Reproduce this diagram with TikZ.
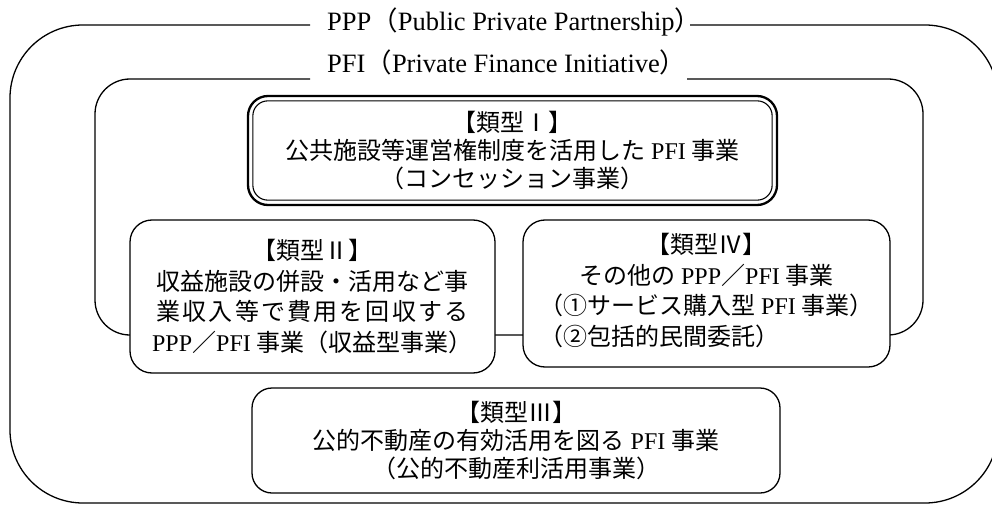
\documentclass[tikz,border=0pt]{standalone}
\usepackage{fontspec}
\setmainfont{Liberation Serif}
\newfontfamily\jp{Noto Sans CJK JP}
\begin{document}
\begin{tikzpicture}[x=1pt,y=-1pt,
  ln/.style={line width=1.3pt},
  ttl/.style={inner sep=0pt, font=\fontsize{26.5}{30}\selectfont},
  tbox/.style={draw, line width=1.3pt, fill=white, rounded corners=22pt, inner sep=0pt},
  bodyA/.style={font=\fontsize{24}{30.5}\selectfont},
  bodyB/.style={font=\fontsize{24}{28}\selectfont}]
\useasboundingbox (0,0) rectangle (992,505);
\clip (0,0) rectangle (992,505);
% titles
\node[ttl, anchor=base west] (ppp) at (327,31) {PPP{\jp （}Public Private Partnership{\jp ）}};
\node[ttl, anchor=base west] (pfi) at (327,73) {PFI{\jp （}Private Finance Initiative{\jp ）}};
\coordinate (pppL) at (310,25);
\coordinate (pppR) at (690,25);
\coordinate (pfiL) at (310,79);
\coordinate (pfiR) at (687,79);
% frames
\draw[ln, rounded corners=73pt] (pppR) -- (998,25) -- (998,503) -- (10,503) -- (10,25) -- (pppL);
\draw[ln, rounded corners=35pt] (pfiR) -- (923,79) -- (923,335) -- (95,335) -- (95,79) -- (pfiL);
% type I
\node[tbox, bodyB, align=center, line width=2.3pt, rounded corners=20pt,
      minimum width=529pt, minimum height=109pt] (t1) at (512.5,150.5)
  {{\jp 【類型Ⅰ】}\\{\jp 公共施設等運営権制度を活用した} PFI {\jp 事業}\\{\jp （コンセッション事業）}};
\draw[line width=1.1pt, rounded corners=15pt] ([shift={(6,6)}]t1.north west) rectangle ([shift={(-6,-6)}]t1.south east);
% type II
\node[tbox, bodyA, align=center, minimum width=365pt, minimum height=153pt] (t2) at (312.5,296.5)
  {{\jp 【類型Ⅱ】}\\{\jp 収益施設の併設・活用など事}\\
   \makebox[312pt][s]{\jp 業\hfil 収\hfil 入\hfil 等\hfil で\hfil 費\hfil 用\hfil を\hfil 回\hfil 収\hfil す\hfil る}\\
   PPP{\jp ／}PFI {\jp 事業（収益型事業）}};
% type IV
\node[tbox, bodyA, minimum width=367pt, minimum height=147pt] (t4) at (706.5,293.5)
  {\begin{tabular}{@{}l@{}}
   \multicolumn{1}{@{}c@{}}{\jp 【類型Ⅳ】}\\
   \multicolumn{1}{@{}c@{}}{{\jp その他の} PPP{\jp ／}PFI {\jp 事業}}\\
   {\jp （①サービス購入型} PFI {\jp 事業）}\\
   {\jp （②包括的民間委託）}
   \end{tabular}};
% type III
\node[tbox, bodyB, align=center, rounded corners=20pt, minimum width=528pt, minimum height=105pt] (t3) at (516,440.5)
  {{\jp 【類型Ⅲ】}\\{\jp 公的不動産の有効活用を図る} PFI {\jp 事業}\\{\jp （公的不動産利活用事業）}};
\end{tikzpicture}
\end{document}
